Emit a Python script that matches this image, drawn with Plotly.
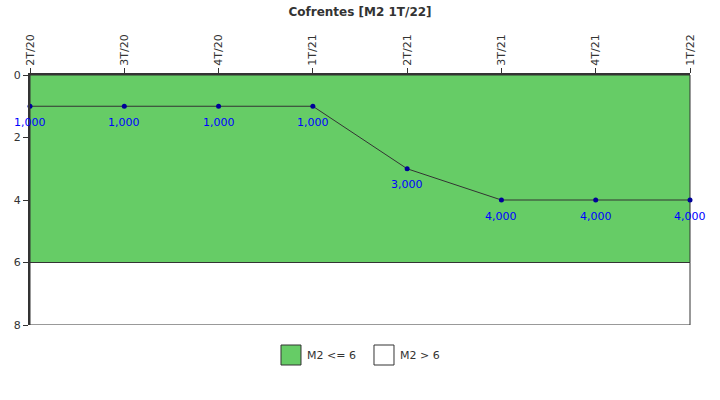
import plotly.graph_objects as go

categories = ["2T/20", "3T/20", "4T/20", "1T/21", "2T/21", "3T/21", "4T/21", "1T/22"]
values = [1, 1, 1, 1, 3, 4, 4, 4]
band_edges = [0, 6, 8]
band_colors = ["#66CC66", "#FFFFFF"]
band_names = ["M2 <= 6", "M2 > 6"]
y_ticks = [0, 2, 4, 6, 8]

FONT = "DejaVu Sans, Verdana, sans-serif"
xs = list(range(len(categories)))

fig = go.Figure()
fig.add_trace(go.Scatter(
    x=xs, y=values, mode="lines+markers",
    line=dict(color="#333333", width=1),
    marker=dict(color="#000099", size=5),
    cliponaxis=False, showlegend=False, hoverinfo="skip",
))

shapes = []
for i in range(len(band_colors)):
    shapes.append(dict(
        type="rect", xref="paper", yref="y", x0=0, x1=1,
        y0=band_edges[i], y1=band_edges[i + 1],
        fillcolor=band_colors[i], line=dict(color="#333333", width=1),
        layer="below",
    ))

annotations = []
for x, v in zip(xs, values):
    annotations.append(dict(
        x=x, y=v, xref="x", yref="y", text=f"{v:,.3f}".replace(",", "X").replace(".", ",").replace("X", "."),
        showarrow=False, yshift=-16,
        font=dict(family=FONT, size=11, color="#0000FF"),
    ))

# custom legend
leg_x = [0.3803, 0.5212]
for i in range(len(band_names)):
    shapes.append(dict(
        type="rect", xref="paper", yref="paper",
        x0=leg_x[i], x1=leg_x[i] + 0.0303, y0=-0.16, y1=-0.08,
        fillcolor=band_colors[i], line=dict(color="#333333", width=1),
    ))
    annotations.append(dict(
        x=leg_x[i] + 0.0364, y=-0.12, xref="paper", yref="paper",
        xanchor="left", yanchor="middle", showarrow=False,
        text=band_names[i], font=dict(family=FONT, size=11, color="#333333"),
    ))

fig.update_layout(
    width=720, height=400,
    margin=dict(l=30, r=30, t=75, b=75),
    plot_bgcolor="white", paper_bgcolor="white",
    title=dict(text="<b>Cofrentes [M2 1T/22]</b>", x=0.5, xanchor="center",
               y=0.97, yanchor="middle",
               font=dict(family=FONT, size=12, color="#333333")),
    font=dict(family=FONT, size=11, color="#333333"),
    shapes=shapes, annotations=annotations,
    showlegend=False,
    xaxis=dict(
        side="top", range=[0, len(categories) - 1],
        tickmode="array", tickvals=xs, ticktext=categories,
        tickangle=-90, ticks="outside", ticklen=5, tickcolor="#333333",
        showgrid=False, zeroline=False,
        showline=True, linewidth=2, linecolor="#333333",
        tickfont=dict(family=FONT, size=11, color="#333333"),
    ),
    yaxis=dict(
        range=[8, 0], tickmode="array", tickvals=y_ticks,
        ticks="outside", ticklen=5, tickcolor="#333333",
        showgrid=False, zeroline=False,
        showline=True, linewidth=2, linecolor="#333333",
        tickfont=dict(family=FONT, size=11, color="#333333"),
    ),
)

fig.write_html("out.html")
